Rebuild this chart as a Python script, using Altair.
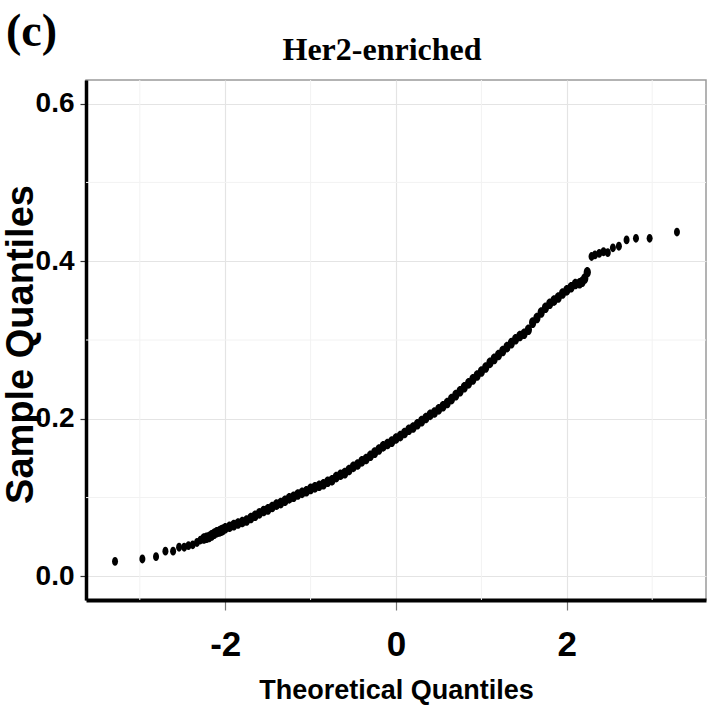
import altair as alt
import pandas as pd

# ---- data ----
theo_q = [
    -3.29, -2.97, -2.81, -2.70, -2.61, -2.54, -2.48, -2.43, -2.38, -2.33,
    -2.29, -2.25, -2.22, -2.19, -2.16, -2.13, -2.10, -2.07, -2.05, -2.03,
    -2.00, -1.95, -1.90, -1.85, -1.80, -1.75, -1.70, -1.65, -1.60, -1.55,
    -1.50, -1.45, -1.40, -1.35, -1.30, -1.25, -1.20, -1.15, -1.10, -1.05,
    -1.00, -0.95, -0.90, -0.85, -0.80, -0.75, -0.70, -0.65, -0.60, -0.55,
    -0.50, -0.45, -0.40, -0.35, -0.30, -0.25, -0.20, -0.15, -0.10, -0.05,
    0.00, 0.05, 0.10, 0.15, 0.20, 0.25, 0.30, 0.35, 0.40, 0.45,
    0.50, 0.55, 0.60, 0.65, 0.70, 0.75, 0.80, 0.85, 0.90, 0.95,
    1.00, 1.05, 1.10, 1.15, 1.20, 1.25, 1.30, 1.35, 1.40, 1.45,
    1.50, 1.55, 1.60, 1.65, 1.70, 1.75, 1.80, 1.85, 1.90, 1.95,
    2.00, 2.05, 2.10, 2.15, 2.18, 2.21, 2.24,
    2.29, 2.33, 2.38, 2.43, 2.48, 2.54, 2.61, 2.70, 2.81, 2.97, 3.29,
]
sample_q = [
    0.019, 0.022, 0.025, 0.032, 0.032, 0.037, 0.037, 0.039, 0.040, 0.043,
    0.046, 0.048, 0.049, 0.050, 0.052, 0.054, 0.056, 0.057, 0.058, 0.059,
    0.061, 0.063, 0.065, 0.067, 0.069, 0.071, 0.074, 0.077, 0.080, 0.083,
    0.085, 0.088, 0.091, 0.093, 0.096, 0.099, 0.101, 0.104, 0.106, 0.108,
    0.111, 0.113, 0.115, 0.117, 0.120, 0.122, 0.126, 0.129, 0.131, 0.135,
    0.139, 0.142, 0.146, 0.149, 0.153, 0.157, 0.161, 0.165, 0.168, 0.171,
    0.175, 0.178, 0.182, 0.186, 0.189, 0.193, 0.197, 0.201, 0.205, 0.208,
    0.212, 0.216, 0.220, 0.225, 0.230, 0.235, 0.240, 0.245, 0.250, 0.255,
    0.260, 0.265, 0.271, 0.276, 0.281, 0.286, 0.291, 0.296, 0.301, 0.305,
    0.308, 0.313, 0.322, 0.328, 0.335, 0.341, 0.346, 0.350, 0.354, 0.359,
    0.363, 0.367, 0.371, 0.372, 0.374, 0.378, 0.386,
    0.406, 0.408, 0.410, 0.412, 0.411, 0.417, 0.419, 0.427, 0.429, 0.429, 0.437,
]
x_major = [-2, 0, 2]
x_minor = [-3, -1, 1, 3]
y_major = [0.0, 0.2, 0.4, 0.6]
y_minor = [0.1, 0.3, 0.5]
panel_label = "(c)"
panel_title = "Her2-enriched"
x_title = "Theoretical Quantiles"
y_title = "Sample Quantiles"

pts = pd.DataFrame({"x": theo_q, "y": sample_q})
vgrid = pd.DataFrame({"x": x_minor})
hgrid = pd.DataFrame({"y": y_minor})

SANS = "Liberation Sans, Arial, Helvetica, sans-serif"
SERIF = "Liberation Serif, Times New Roman, serif"

xscale = alt.Scale(domain=[-3.63, 3.63], nice=False, zero=False)
yscale = alt.Scale(domain=[-0.03, 0.63], nice=False, zero=False)

xaxis = alt.Axis(
    values=x_major, labelExpr="'' + datum.value", grid=True, gridColor="#E4E4E4",
    gridWidth=1.2, domainColor="black", domainWidth=4, tickColor="#777777",
    tickSize=10, tickWidth=1.2, labelFont=SANS, labelFontSize=35,
    labelFontWeight="bold", labelColor="black", labelBaseline="alphabetic",
    labelPadding=45, labelFlush=False, title=x_title, titleFont=SANS,
    titleFontSize=27, titleFontWeight="bold", titleColor="black",
    titleBaseline="alphabetic", titleY=98,
)
yaxis = alt.Axis(
    values=y_major, format=".1f", grid=True, gridColor="#E4E4E4", gridWidth=1.2,
    domainColor="black", domainWidth=3.5, tickColor="#333333", tickSize=6,
    tickWidth=1.2, labelFont=SANS, labelFontSize=28, labelFontWeight="bold",
    labelColor="black", labelBaseline="middle", labelPadding=6, labelFlush=False,
    title=y_title, titleFont=SANS, titleFontSize=38, titleFontWeight="bold",
    titleColor="black", titleAngle=270, titleAlign="center", titleBaseline="top",
    titleX=-84, titleY=264,
)

x_enc = alt.X("x:Q", scale=xscale, axis=xaxis)
y_enc = alt.Y("y:Q", scale=yscale, axis=yaxis)

minor_v = alt.Chart(vgrid).mark_rule(color="#F2F2F2", strokeWidth=1).encode(x=x_enc)
minor_h = alt.Chart(hgrid).mark_rule(color="#F2F2F2", strokeWidth=1).encode(y=y_enc)

ellipse = ("M-0.68,0C-0.68,-0.552,-0.376,-1,0,-1C0.376,-1,0.68,-0.552,0.68,0"
           "C0.68,0.552,0.376,1,0,1C-0.376,1,-0.68,0.552,-0.68,0Z")
base_pts = alt.Chart(pts).encode(x=x_enc, y=y_enc)
# sparse tails: single dots
tail = base_pts.transform_filter("abs(datum.x) >= 2.27").mark_point(
    shape=ellipse, filled=True, size=78, color="black", opacity=1, strokeWidth=0
)
# dense body: many overlapping dots form a thick band
body = base_pts.transform_filter("abs(datum.x) < 2.27").mark_point(
    shape=ellipse, filled=True, size=112, color="black", opacity=1, strokeWidth=0
)

title_txt = alt.Chart(pd.DataFrame({"t": [panel_title]})).mark_text(
    font=SERIF, fontSize=32, fontWeight="bold", color="black",
    align="center", baseline="alphabetic"
).encode(text="t:N", x=alt.value(296), y=alt.value(-20))

label_txt = alt.Chart(pd.DataFrame({"t": [panel_label]})).mark_text(
    font=SERIF, fontSize=46, fontWeight="bold", color="black",
    align="left", baseline="alphabetic"
).encode(text="t:N", x=alt.value(-80), y=alt.value(-34))

chart = alt.layer(minor_v, minor_h, body, tail, title_txt, label_txt).properties(
    width=620, height=520,
    padding={"left": 86, "top": 80, "right": 1, "bottom": 117},
    autosize=alt.AutoSizeParams(type="none"),
    background="white",
).configure_view(stroke="#9A9A9A", strokeWidth=1.5)

chart.save("out.html", embed_options={"renderer": "svg", "actions": False})
